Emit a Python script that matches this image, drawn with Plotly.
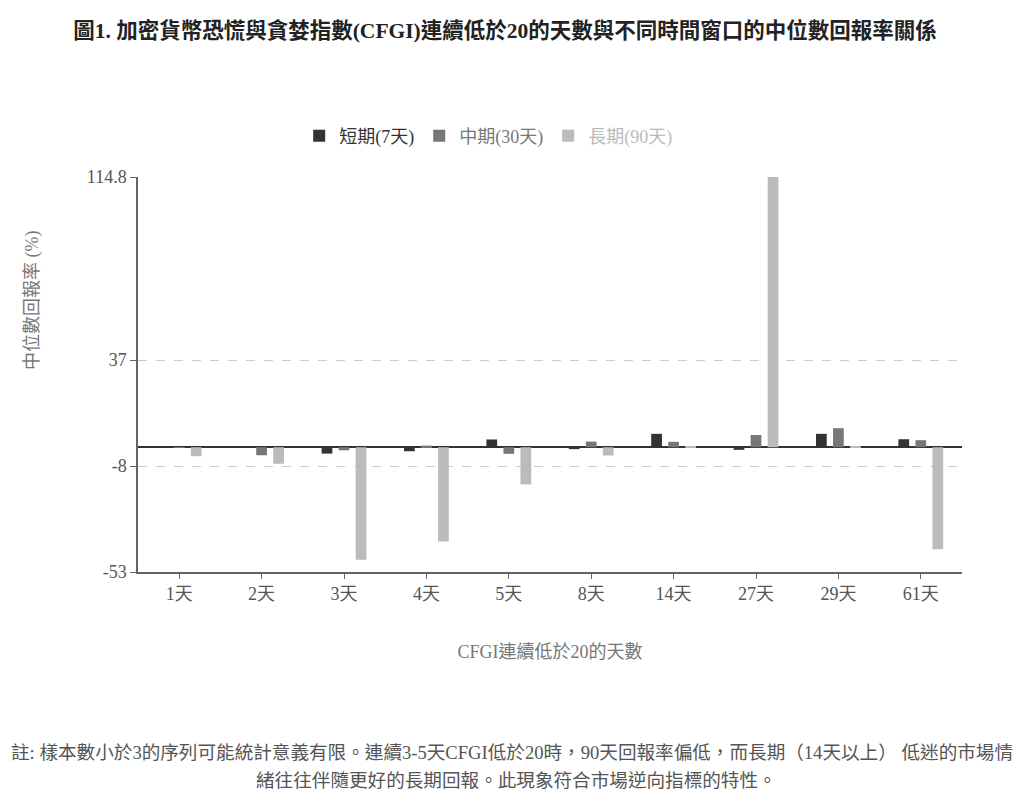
import plotly.graph_objects as go

days = ["1天", "2天", "3天", "4天", "5天", "8天", "14天", "27天", "29天", "61天"]

# median returns (%) per window
short_7 = [0.2, 0.2, -2.7, -1.7, 3.3, -0.8, 5.7, -1.1, 5.7, 3.4]
mid_30 = [0.1, -3.4, -1.3, 0.7, -2.8, 2.4, 2.3, 5.2, 8.1, 3.0]
long_90 = [-3.8, -7.0, -47.8, -40.0, -15.8, -3.5, 0.4, 114.8, 0.4, -43.3]

y_ticks = [-53, -8, 37, 114.8]
y_ticktext = ["-53", "-8", "37", "114.8"]

FONT = "Liberation Serif, Noto Sans CJK TC, serif"

series = [
    ("短期(7天)", short_7, "#333333"),
    ("中期(30天)", mid_30, "#777777"),
    ("長期(90天)", long_90, "#bbbbbb"),
]

fig = go.Figure()
for name, vals, col in series:
    fig.add_trace(go.Bar(
        x=days, y=vals,
        name="<span style='color:%s'>%s</span>" % (col, name),
        marker=dict(color=col, line=dict(width=0)),
    ))

# page has an 8px body margin, so the figure is 1016x802 and sits at (8, 8)
W, H = 1016, 802
L, T, PW, PH = 130, 169, 824, 395


def px(page_x):
    return (page_x - 8 - L) / PW


def py(page_y):
    return (T + PH - (page_y - 8)) / PH


fig.update_layout(
    width=W, height=H,
    margin=dict(l=L, r=W - L - PW, t=T, b=H - T - PH),
    paper_bgcolor="white", plot_bgcolor="white",
    font=dict(family=FONT, size=18, color="#555555"),
    barmode="group", bargap=0.38, bargroupgap=0.37,
    showlegend=True,
    title=dict(
        text="<b>圖1. 加密貨幣恐慌與貪婪指數(CFGI)連續低於20的天數與不同時間窗口的中位數回報率關係</b>",
        x=497 / W, xanchor="center", yref="container", y=1 - 22 / H, yanchor="middle",
        font=dict(family=FONT, size=21.5, color="#222222"),
    ),
    legend=dict(
        orientation="h", x=0.425, xanchor="center", y=py(136), yanchor="middle",
        font=dict(size=18), bgcolor="rgba(0,0,0,0)",
    ),
)

fig.update_xaxes(
    type="category",
    showline=True, linecolor="#666666", linewidth=1.5,
    ticks="outside", ticklen=5, tickcolor="#666666",
    showgrid=False,
    tickfont=dict(size=18, color="#555555"),
    title=dict(text="CFGI連續低於20的天數", font=dict(size=18, color="#777777"), standoff=42),
)

fig.update_yaxes(
    range=[-53, 114.8],
    tickvals=y_ticks, ticktext=y_ticktext,
    showline=True, linecolor="#666666", linewidth=1.5,
    ticks="outside", ticklen=6, tickcolor="#666666",
    showgrid=True, gridcolor="#cccccc", griddash="dash", gridwidth=1,
    zeroline=True, zerolinecolor="#333333", zerolinewidth=1.5,
    tickfont=dict(size=18, color="#555555"),
)

fig.add_annotation(
    text="中位數回報率 (%)", textangle=-90,
    xref="paper", yref="paper", x=px(32), y=py(301),
    xanchor="center", yanchor="middle", showarrow=False,
    font=dict(size=18, color="#777777"),
)

note1 = "註: 樣本數小於3的序列可能統計意義有限。連續3-5天CFGI低於20時，90天回報率偏低，而長期（14天以上） 低迷的市場情"
note2 = "緒往往伴隨更好的長期回報。此現象符合市場逆向指標的特性。"
for txt, cx, cy in [(note1, 512, 752), (note2, 516, 780)]:
    fig.add_annotation(
        text=txt, xref="paper", yref="paper",
        x=px(cx), y=py(cy),
        xanchor="center", yanchor="middle", showarrow=False,
        font=dict(size=18.6, color="#555555"),
    )

fig.write_html("out.html")
